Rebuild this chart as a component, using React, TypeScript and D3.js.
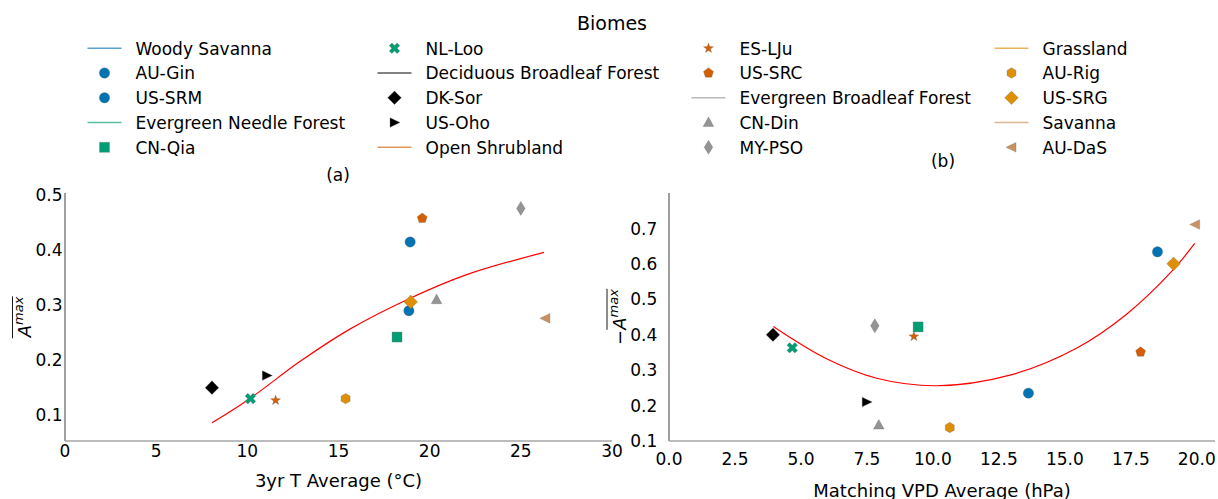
import React, { useEffect, useRef } from "react";
import * as d3 from "d3";

// sites, in legend order inside each biome
const sites = ["AU-Gin", "US-SRM", "CN-Qia", "NL-Loo", "DK-Sor", "US-Oho", "ES-LJu", "US-SRC", "CN-Din", "MY-PSO", "AU-Rig", "US-SRG", "AU-DaS"];
const siteBiome = [0, 0, 1, 1, 2, 2, 3, 3, 4, 4, 5, 5, 6];
const siteMarker = ["o", "o", "s", "X", "D", ">", "*", "p", "^", "d", "h", "D", "<"];

const biomes = ["Woody Savanna", "Evergreen Needle Forest", "Deciduous Broadleaf Forest", "Open Shrubland", "Evergreen Broadleaf Forest", "Grassland", "Savanna"];
const biomeColors = ["#0173b2", "#029e73", "#000000", "#d55e00", "#949494", "#de8f05", "#ca9161"];

// (a) 3yr T average vs A max
const tempAvg = [18.93, 18.86, 18.21, 10.17, 8.06, 11.07, 11.55, 19.59, 20.38, 25.0, 15.39, 18.96, 26.35];
const amaxTemp = [0.415, 0.29, 0.242, 0.13, 0.15, 0.172, 0.127, 0.458, 0.31, 0.476, 0.13, 0.306, 0.276];
const tempFitX = [8.06, 10.13, 12.86, 15.6, 18.7, 21.99, 26.27];
const tempFitY = [0.086, 0.13, 0.197, 0.256, 0.309, 0.355, 0.396];

// (b) matching VPD average vs -A max
const vpdAvg = [18.51, 13.62, 9.44, 4.67, 3.94, 7.49, 9.28, 17.87, 7.95, 7.8, 10.64, 19.12, 19.94];
const amaxVpd = [0.634, 0.235, 0.422, 0.363, 0.4, 0.21, 0.395, 0.351, 0.145, 0.425, 0.138, 0.6, 0.711];
const vpdFitX = [3.95, 5.97, 7.87, 10.14, 12.92, 15.44, 17.34, 19.1, 19.92];
const vpdFitY = [0.423, 0.332, 0.277, 0.256, 0.286, 0.362, 0.458, 0.583, 0.658];

const tempTicks = [0, 5, 10, 15, 20, 25, 30];
const amaxTempTicks = [0.1, 0.2, 0.3, 0.4, 0.5];
const vpdTicks = [0, 2.5, 5, 7.5, 10, 12.5, 15, 17.5, 20];
const amaxVpdTicks = [0.1, 0.2, 0.3, 0.4, 0.5, 0.6, 0.7];

const FONT = "DejaVu Sans, sans-serif";

function poly(pts: number[][]) {
  return "M" + pts.map((p) => p[0].toFixed(2) + "," + p[1].toFixed(2)).join("L") + "Z";
}

function regular(n: number, r: number, rot: number) {
  const pts = [];
  for (let i = 0; i < n; i++) {
    const a = rot + (i * 2 * Math.PI) / n;
    pts.push([r * Math.sin(a), -r * Math.cos(a)]);
  }
  return poly(pts);
}

function markerPath(m: string) {
  switch (m) {
    case "o":
      return d3.symbol(d3.symbolCircle, Math.PI * 5.2 * 5.2)();
    case "s":
      return poly([[-5, -5], [5, -5], [5, 5], [-5, 5]]);
    case "D":
      return poly([[0, -6.8], [6.8, 0], [0, 6.8], [-6.8, 0]]);
    case "d":
      return poly([[0, -7], [4.3, 0], [0, 7], [-4.3, 0]]);
    case ">":
      return poly([[5.5, 0], [-4.5, -4.8], [-4.5, 4.8]]);
    case "<":
      return poly([[-5.5, 0], [4.5, -4.8], [4.5, 4.8]]);
    case "^":
      return poly([[0, -5.6], [5.3, 4], [-5.3, 4]]);
    case "p":
      return regular(5, 5.2, 0);
    case "h":
      return regular(6, 5.2, 0);
    case "*": {
      const pts = [];
      for (let i = 0; i < 10; i++) {
        const r = i % 2 === 0 ? 5.2 : 2.1;
        const a = (i * Math.PI) / 5;
        pts.push([r * Math.sin(a), -r * Math.cos(a)]);
      }
      return poly(pts);
    }
    case "X": {
      const w = 1.9, L = 5.6;
      const base = [[-w, -L], [w, -L], [w, -w], [L, -w], [L, w], [w, w], [w, L], [-w, L], [-w, w], [-L, w], [-L, -w], [-w, -w]];
      const c = Math.SQRT1_2;
      return poly(base.map(([x, y]) => [c * x - c * y, c * x + c * y]));
    }
  }
  return "";
}

export default function App() {
  const ref = useRef<SVGSVGElement>(null);

  useEffect(() => {
    const svg = d3.select(ref.current);
    svg.selectAll("*").remove();

    // ---------- legend ----------
    svg.append("text").attr("x", 612).attr("y", 29.5).attr("text-anchor", "middle")
      .attr("font-size", 19).attr("font-family", FONT).text("Biomes");

    const entries: { label: string; kind: string; color: string; marker: string }[] = [];
    biomes.forEach((b, bi) => {
      entries.push({ label: b, kind: "line", color: biomeColors[bi], marker: "" });
      sites.forEach((s, si) => {
        if (siteBiome[si] === bi) entries.push({ label: s, kind: "marker", color: biomeColors[bi], marker: siteMarker[si] });
      });
    });
    const colX = [104.5, 394.5, 708.5, 1011.5];
    const rowY = [48.3, 73, 97.8, 122.5, 147.3];
    entries.forEach((e, i) => {
      const cx = colX[Math.floor(i / 5)];
      const cy = rowY[i % 5];
      if (e.kind === "line") {
        svg.append("line").attr("x1", cx - 17).attr("x2", cx + 17).attr("y1", cy).attr("y2", cy)
          .attr("stroke", e.color).attr("stroke-width", 1.5).attr("opacity", 0.65);
      } else {
        svg.append("path").attr("d", markerPath(e.marker)).attr("transform", `translate(${cx},${cy})`)
          .attr("fill", e.color).attr("stroke", "#666").attr("stroke-width", 0.3);
      }
      svg.append("text").attr("x", cx + 31).attr("y", cy + 6.2).attr("font-size", 17)
        .attr("font-family", FONT).text(e.label);
    });

    // ---------- panels ----------
    const drawPanel = (opt: any) => {
      const g = svg.append("g");
      const x = d3.scaleLinear().domain(opt.xDomain).range(opt.xRange);
      const y = d3.scaleLinear().domain(opt.yDomain).range([441, 193]);

      g.append("line").attr("x1", opt.xRange[0]).attr("x2", opt.xRange[0]).attr("y1", 193).attr("y2", 441)
        .attr("stroke", "#606060").attr("stroke-width", 1.2);
      g.append("line").attr("x1", opt.xRange[0]).attr("x2", opt.xRange[1]).attr("y1", 441).attr("y2", 441)
        .attr("stroke", "#a6a6a6").attr("stroke-width", 1.5);

      g.selectAll(".xt").data(opt.xTicks).enter().append("text")
        .attr("x", (d: number) => x(d)).attr("y", opt.xTickY).attr("text-anchor", "middle")
        .attr("font-size", 17).attr("font-family", FONT).text((d: number) => d3.format(opt.xFmt)(d));
      g.selectAll(".yt").data(opt.yTicks).enter().append("text")
        .attr("x", opt.yTickX).attr("y", (d: number) => y(d)).attr("dy", "0.36em").attr("text-anchor", "end")
        .attr("font-size", 17).attr("font-family", FONT).text((d: number) => d3.format(".1f")(d));

      g.append("text").attr("x", (opt.xRange[0] + opt.xRange[1]) / 2).attr("y", opt.xLabelY)
        .attr("text-anchor", "middle").attr("font-size", 18).attr("font-family", FONT).text(opt.xLabel);
      g.append("text").attr("x", opt.titleX).attr("y", opt.titleY)
        .attr("text-anchor", "middle").attr("font-size", 17).attr("font-family", FONT).text(opt.title);

      // y label with overline
      const yl = g.append("g").attr("transform", `translate(${opt.yLabelX},317) rotate(-90)`);
      const t = yl.append("text").attr("text-anchor", "middle").attr("font-size", 18).attr("font-family", FONT);
      if (opt.neg) t.append("tspan").text("\u2212");
      t.append("tspan").attr("font-style", "italic").text("A");
      t.append("tspan").attr("font-style", "italic").attr("font-size", 13).attr("dy", -8).text("max");
      const tn = t.node() as SVGTextElement;
      const bb = tn.getBBox();
      const x0 = opt.neg ? tn.getStartPositionOfChar(1).x : bb.x;
      yl.append("line").attr("x1", x0).attr("x2", bb.x + bb.width).attr("y1", -18.5).attr("y2", -18.5)
        .attr("stroke", "#000").attr("stroke-width", 0.9);

      const line = d3.line<number>().x((d) => x(opt.fitX[d])).y((d) => y(opt.fitY[d])).curve(d3.curveCatmullRom.alpha(0.5));
      g.append("path").attr("d", line(d3.range(opt.fitX.length))).attr("fill", "none")
        .attr("stroke", "red").attr("stroke-width", 1.2);

      g.selectAll(".pt").data(d3.range(sites.length)).enter().append("path")
        .attr("d", (i: number) => markerPath(siteMarker[i]))
        .attr("transform", (i: number) => `translate(${x(opt.xs[i])},${y(opt.ys[i])})`)
        .attr("fill", (i: number) => biomeColors[siteBiome[i]])
        .attr("stroke", "#666").attr("stroke-width", 0.3);
    };

    drawPanel({
      xDomain: [0, 30], xRange: [65, 612], yDomain: [0.053, 0.504],
      xTicks: tempTicks, yTicks: amaxTempTicks, xFmt: "d", xTickY: 456.5, yTickX: 62.5,
      xLabel: "3yr T Average (\u00b0C)", xLabelY: 487.3, title: "(a)", titleX: 338, titleY: 181,
      yLabelX: 31, neg: false, xs: tempAvg, ys: amaxTemp, fitX: tempFitX, fitY: tempFitY,
    });
    drawPanel({
      xDomain: [0, 20.69], xRange: [669, 1215], yDomain: [0.1, 0.8],
      xTicks: vpdTicks, yTicks: amaxVpdTicks, xFmt: ".1f", xTickY: 465, yTickX: 657.3,
      xLabel: "Matching VPD Average (hPa)", xLabelY: 496.5, title: "(b)", titleX: 943, titleY: 167,
      yLabelX: 625.5, neg: true, xs: vpdAvg, ys: amaxVpd, fitX: vpdFitX, fitY: vpdFitY,
    });
  }, []);

  return (
    <svg ref={ref} width={1218} height={499}
      style={{ position: "absolute", left: 0, top: 0, background: "#fff" }} />
  );
}
